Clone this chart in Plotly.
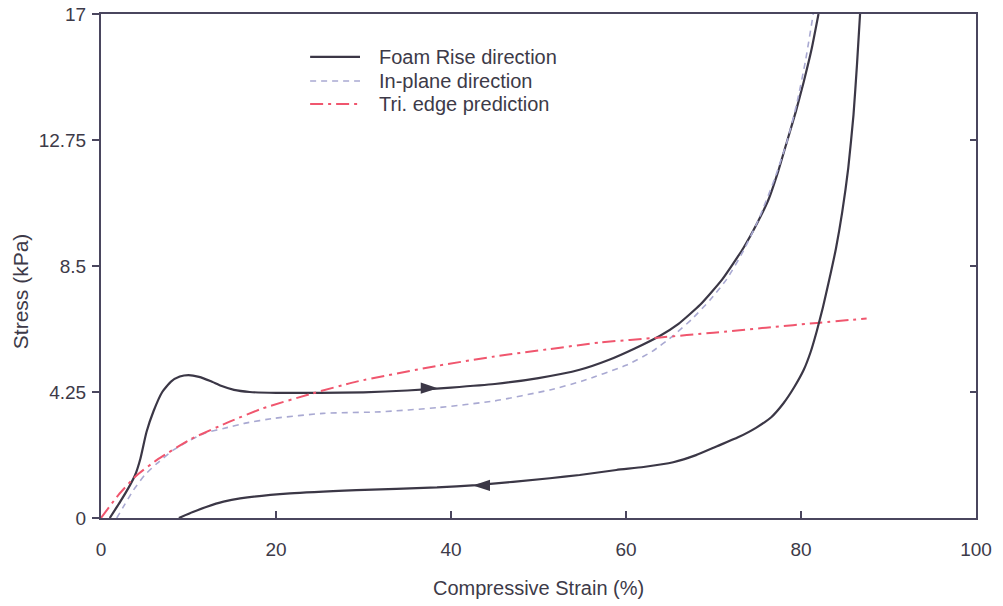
import plotly.graph_objects as go

# Foam rise direction: loading branch (strain %, stress kPa)
rise_load_strain = [1.0, 2.2, 3.3, 3.9, 4.5, 5.2, 6.0, 7.0, 8.0, 9.0, 10.0, 11.2, 12.5, 13.8,
                    15.2, 17.0, 20.0, 25.0, 30.0, 35.0, 40.0, 45.0, 50.0, 54.7, 58.0, 61.0,
                    63.9, 66.0, 68.5, 71.0, 73.4, 75.0, 76.3, 77.4, 78.4, 79.4, 80.3, 81.2, 82.0]
rise_load_stress = [0.0, 0.55, 1.1, 1.45, 2.0, 2.9, 3.6, 4.25, 4.6, 4.77, 4.82, 4.76, 4.62, 4.45,
                    4.32, 4.25, 4.22, 4.22, 4.24, 4.30, 4.40, 4.52, 4.72, 5.0, 5.33, 5.72,
                    6.15, 6.55, 7.2, 8.05, 9.1, 9.95, 10.75, 11.7, 12.7, 13.7, 14.7, 15.8, 17.0]

# Foam rise direction: unloading branch
rise_unload_strain = [8.9, 10.5, 12.1, 14.0, 15.9, 21.6, 29.2, 38.4, 42.9, 51.3, 54.7, 58.9,
                      62.0, 65.4, 68.0, 70.4, 72.8, 74.9, 76.6, 78.0, 79.2, 80.3, 81.1, 81.8,
                      82.5, 83.2, 84.0, 84.7, 85.4, 86.0, 86.4, 86.75]
rise_unload_stress = [0.0, 0.2, 0.38, 0.55, 0.66, 0.83, 0.94, 1.03, 1.11, 1.34, 1.45, 1.62,
                      1.72, 1.88, 2.12, 2.42, 2.72, 3.05, 3.4, 3.87, 4.4, 4.99, 5.6, 6.3,
                      7.1, 8.0, 9.1, 10.3, 11.8, 13.6, 15.3, 17.0]

# In-plane direction
inplane_strain = [1.8, 2.7, 3.7, 5.0, 6.4, 8.2, 10.2, 12.0, 14.0, 16.5, 19.7, 25.4, 31.9, 38.4,
                  45.0, 51.3, 55.0, 60.0, 63.0, 65.4, 67.5, 69.6, 71.5, 73.4, 75.2, 77.0, 78.4,
                  79.5, 80.5, 81.4]
inplane_stress = [0.0, 0.45, 0.94, 1.45, 1.84, 2.28, 2.63, 2.88, 3.02, 3.2, 3.36, 3.53, 3.58, 3.72,
                  3.95, 4.32, 4.62, 5.15, 5.62, 6.15, 6.7, 7.35, 8.05, 9.0, 10.1, 11.45, 12.7,
                  13.95, 15.4, 17.0]

# Triangular edge model prediction
tri_strain = [0.0, 2.0, 4.0, 6.4, 10.2, 14.7, 18.5, 23.9, 29.2, 38.4, 45.0, 51.3, 57.0, 63.9,
              70.0, 76.0, 82.2, 87.5]
tri_stress = [0.0, 0.78, 1.42, 1.96, 2.65, 3.25, 3.7, 4.18, 4.6, 5.13, 5.45, 5.70, 5.92, 6.09,
              6.25, 6.42, 6.59, 6.73]

# Direction arrows on the loading / unloading branches
arrow_strain = [38.5, 42.5]
arrow_stress = [4.38, 1.10]
arrow_angle = [90, -90]

y_ticks = [0, 4.25, 8.5, 12.75, 17]
y_tick_text = ["0", "4.25", "8.5", "12.75", "17"]
x_ticks = [0, 20, 40, 60, 80, 100]

series_names = ["Foam Rise direction", "In-plane direction", "Tri. edge prediction"]

FONT = "Arial, Liberation Sans, sans-serif"
TEXT = "#3d3a48"
AXIS = "#4a465e"
RISE = "#3b3746"
INPLANE = "#a9a9d2"
TRI = "#f0566e"
SPLINE = 0.5

styles = [
    dict(color=RISE, width=2.2, dash="solid"),
    dict(color=INPLANE, width=1.6, dash="6px,5px"),
    dict(color=TRI, width=2, dash="13px,5px,3px,5px"),
]

fig = go.Figure()

fig.add_trace(go.Scatter(
    x=rise_load_strain, y=rise_load_stress, mode="lines",
    line=dict(**styles[0], shape="spline", smoothing=SPLINE), name=series_names[0]))
fig.add_trace(go.Scatter(
    x=inplane_strain, y=inplane_stress, mode="lines",
    line=dict(**styles[1], shape="spline", smoothing=SPLINE), name=series_names[1]))
fig.add_trace(go.Scatter(
    x=tri_strain, y=tri_stress, mode="lines",
    line=dict(**styles[2], shape="spline", smoothing=SPLINE), name=series_names[2]))
fig.add_trace(go.Scatter(
    x=rise_unload_strain, y=rise_unload_stress, mode="lines",
    line=dict(**styles[0], shape="spline", smoothing=SPLINE), name=series_names[0]))
fig.add_trace(go.Scatter(
    x=arrow_strain, y=arrow_stress, mode="markers",
    marker=dict(symbol="arrow", angle=arrow_angle, size=18, color=RISE,
                line=dict(width=0)),
    hoverinfo="skip"))
# invisible trace so the right-hand tick axis is drawn
fig.add_trace(go.Scatter(x=[None], y=[None], yaxis="y2", hoverinfo="skip"))

# Compact key in the upper-left part of the frame: sample line + label per series
key_x0, key_x1, key_text_x = 0.239, 0.296, 0.315
key_rows = [0.915, 0.867, 0.8215]
for name, style, ky in zip(series_names, styles, key_rows):
    fig.add_shape(type="line", xref="paper", yref="paper",
                  x0=key_x0, x1=key_x1, y0=ky, y1=ky, line=style)
    fig.add_annotation(text=name, xref="paper", yref="paper", x=key_text_x, y=ky,
                       xanchor="left", yanchor="middle", showarrow=False,
                       font=dict(family=FONT, size=20, color=TEXT))

fig.update_layout(
    width=1003, height=606,
    margin=dict(l=101, r=27, t=14, b=88, autoexpand=False),
    paper_bgcolor="white", plot_bgcolor="white",
    font=dict(family=FONT, size=19, color=TEXT),
    showlegend=False,
    xaxis=dict(range=[0, 100], tickvals=x_ticks, ticks="inside", ticklen=7,
               tickcolor=AXIS, tickwidth=1.5, showgrid=False, zeroline=False,
               showline=True, linecolor=AXIS, linewidth=2, mirror=True, automargin=False,
               ticklabelstandoff=13, tickfont=dict(size=19, color=TEXT)),
    yaxis=dict(range=[0, 17], tickvals=y_ticks, ticktext=y_tick_text, ticks="outside",
               ticklen=7, tickcolor=AXIS, tickwidth=1.5, showgrid=False, zeroline=False,
               showline=True, linecolor=AXIS, linewidth=2, mirror=True, automargin=False,
               ticklabelstandoff=2, tickfont=dict(size=19, color=TEXT)),
    yaxis2=dict(range=[0, 17], tickvals=y_ticks[1:-1], ticks="inside", ticklen=6,
                tickcolor=AXIS, tickwidth=1.5, showticklabels=False, showgrid=False,
                zeroline=False, overlaying="y", side="right", showline=False,
                automargin=False),
)

# axis titles
fig.add_annotation(text="Compressive Strain (%)", xref="paper", yref="paper",
                   x=0.5, y=-0.139, xanchor="center", yanchor="middle", showarrow=False,
                   font=dict(family=FONT, size=20, color=TEXT))
fig.add_annotation(text="Stress (kPa)", xref="paper", yref="paper",
                   x=-0.108, y=0.45, textangle=-90, showarrow=False,
                   font=dict(family=FONT, size=21, color=TEXT))

fig.write_html("out.html")
